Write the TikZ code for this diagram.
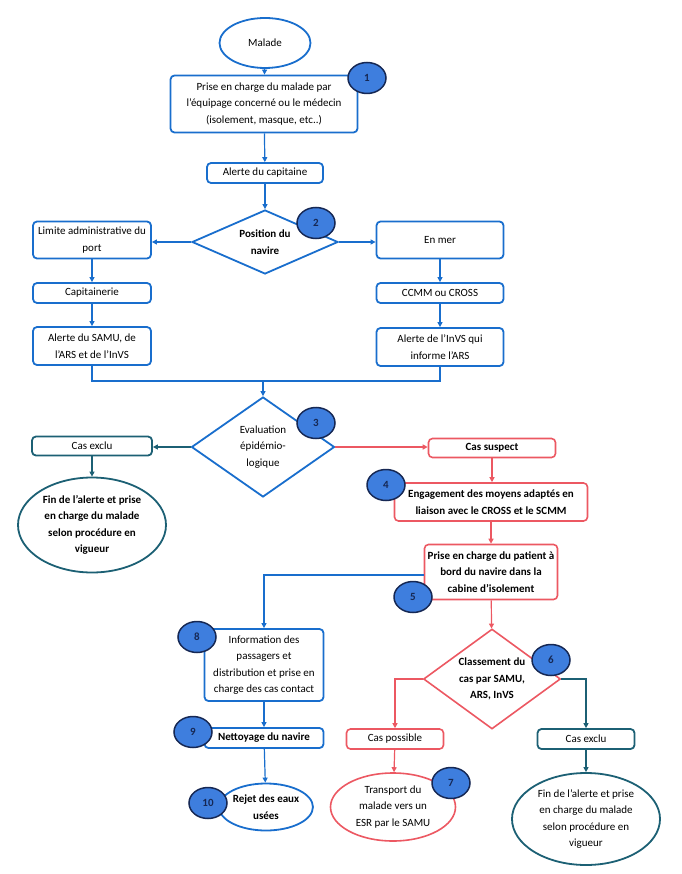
\documentclass[tikz,border=0pt]{standalone}
\usepackage{fontspec}
\setmainfont{Carlito}
\usetikzlibrary{shapes.geometric,arrows.meta,positioning}
\definecolor{bleu}{RGB}{25,110,205}
\definecolor{rouge}{RGB}{236,88,98}
\definecolor{canard}{RGB}{28,96,116}
\definecolor{pastillebleu}{RGB}{62,126,222}
\definecolor{marine}{RGB}{22,40,84}

\begin{document}
\begin{tikzpicture}[x=1pt,y=-1pt,
        every node/.style={font=\fontsize{11}{16.5}\selectfont, align=center, inner sep=1pt},
        boite/.style={draw=#1, line width=1.8pt, rounded corners=4pt, fill=white},
        ovale/.style={draw=#1, line width=1.8pt, ellipse, fill=white, inner sep=0pt},
        losange/.style={draw=#1, line width=1.8pt, diamond, aspect=1.5, fill=white, inner sep=0pt},
        fleche/.style={draw=#1, line width=1.2pt, -{Triangle[length=5pt,width=5pt]}},
        trait/.style={draw=#1, line width=1.2pt},
        pastille/.style={ellipse, draw=marine, line width=1.5pt, fill=pastillebleu, text=marine,
            font=\fontsize{11}{13}\selectfont\bfseries,
            minimum width=38pt, minimum height=31pt, inner sep=0pt}]
        \useasboundingbox (0,0) rectangle (681,874);
        
        %tronc commun
        \node[ovale=bleu, minimum width=91pt, minimum height=50pt] (malade) at (265,43) {Malade};
        \node[boite=bleu, minimum width=187pt, minimum height=57pt] (prise) at (264,104) {Prise en charge du malade par\\l'équipage concerné ou le médecin\\(isolement, masque, etc..)};
        \node[boite=bleu, minimum width=116pt, minimum height=20pt] (capitaine) at (265,173) {Alerte du capitaine};
        \node[losange=bleu, minimum width=146pt, minimum height=64pt] (position) at (265,242) {\textbf{Position du}\\\textbf{navire}};
        
        %port ou mer
        \node[boite=bleu, minimum width=118pt, minimum height=37pt] (limite) at (92,240) {Limite administrative du\\port};
        \node[boite=bleu, minimum width=127pt, minimum height=37pt] (enmer) at (440,240) {En mer};
        \node[boite=bleu, minimum width=118pt, minimum height=20pt] (capitainerie) at (92,293) {Capitainerie};
        \node[boite=bleu, minimum width=127pt, minimum height=20pt] (ccmm) at (440,293) {CCMM ou CROSS};
        \node[boite=bleu, minimum width=118pt, minimum height=38pt] (samu) at (92,346) {Alerte du SAMU, de\\l'ARS et de l'InVS};
        \node[boite=bleu, minimum width=127pt, minimum height=38pt] (invs) at (440,347) {Alerte de l'InVS qui\\informe l'ARS};
        \coordinate (jonction) at (263,381);
        
        %evaluation
        \node[losange=bleu, minimum width=143pt, minimum height=100pt] (evaluation) at (263,447) {Evaluation\\épidémio-\\logique};
        \node[boite=canard, minimum width=120pt, minimum height=19pt] (exclu1) at (92,446) {Cas exclu};
        \node[ovale=canard, minimum width=148pt, minimum height=95pt] (fin1) at (92,525) {\textbf{Fin de l'alerte et prise}\\\textbf{en charge du malade}\\\textbf{selon procédure en}\\\textbf{vigueur}};
        \node[boite=rouge, line width=1.6pt, minimum width=127pt, minimum height=19pt] (suspect) at (492,448) {\textbf{Cas suspect}};
        \node[boite=rouge, line width=1.6pt, minimum width=193pt, minimum height=38pt] (engagement) at (491,502) {\textbf{Engagement des moyens adaptés en}\\\textbf{liaison avec le CROSS et le SCMM}};
        \node[boite=rouge, line width=1.6pt, minimum width=133pt, minimum height=55pt] (patient) at (491,572) {\textbf{Prise en charge du patient à}\\\textbf{bord du navire dans la}\\\textbf{cabine d'isolement}};
        
        %navire
        \node[boite=bleu, minimum width=119pt, minimum height=72pt] (information) at (264,665) {Information des\\passagers et\\distribution et prise en\\charge des cas contact};
        \node[boite=bleu, minimum width=119pt, minimum height=20pt] (nettoyage) at (264,738) {\textbf{Nettoyage du navire}};
        \node[ovale=bleu, minimum width=93pt, minimum height=47pt] (rejet) at (266,807) {\textbf{Rejet des eaux}\\\textbf{usées}};
        
        %classement
        \node[losange=rouge, line width=1.6pt, minimum width=137pt, minimum height=100pt] (classement) at (492,679) {\textbf{Classement du}\\\textbf{cas par SAMU,}\\\textbf{ARS, InVS}};
        \node[boite=rouge, line width=1.6pt, minimum width=97pt, minimum height=20pt] (possible) at (395,739) {Cas possible};
        \node[ovale=rouge, line width=1.6pt, minimum width=125pt, minimum height=68pt] (transport) at (393,807) {Transport du\\malade vers un\\ESR par le SAMU};
        \node[boite=canard, minimum width=97pt, minimum height=20pt] (exclu2) at (586,739) {Cas exclu};
        \node[ovale=canard, minimum width=148pt, minimum height=92pt] (fin2) at (586,819) {Fin de l'alerte et prise\\en charge du malade\\selon procédure en\\vigueur};
        
        %fleches
        \draw[fleche=bleu] (malade) -- (prise);
        \draw[fleche=bleu] (prise) -- (capitaine);
        \draw[fleche=bleu] (capitaine) -- (position);
        \draw[fleche=bleu] (position.west) -- (position.west -| limite.east);
        \draw[fleche=bleu] (position.east) -- (position.east -| enmer.west);
        \draw[fleche=bleu] (limite) -- (capitainerie);
        \draw[fleche=bleu] (capitainerie) -- (samu);
        \draw[fleche=bleu] (enmer) -- (ccmm);
        \draw[fleche=bleu] (ccmm) -- (invs);
        \draw[trait=bleu] (samu.south) |- (jonction) -| (invs.south);
        \draw[fleche=bleu] (jonction) -- (evaluation.north);
        \draw[fleche=canard] (evaluation.west) -- (evaluation.west -| exclu1.east);
        \draw[fleche=canard] (exclu1) -- (fin1);
        \draw[fleche=rouge] (evaluation.east) -- (evaluation.east -| suspect.west);
        \draw[fleche=rouge] (suspect.south) -- (suspect.south |- engagement.north);
        \draw[fleche=rouge] (engagement) -- (patient);
        \draw[fleche=bleu] ([yshift=-3pt]patient.west) -| (information.north);
        \draw[fleche=rouge] (patient) -- (classement);
        \draw[fleche=rouge] (classement.west) -| (possible.north);
        \draw[fleche=canard] (classement.east) -| (exclu2.north);
        \draw[fleche=rouge] (possible) -- (transport);
        \draw[fleche=canard] (exclu2) -- (fin2);
        \draw[fleche=bleu] (information) -- (nettoyage);
        \draw[fleche=bleu] (nettoyage) -- (rejet);
        
        %pastilles numerotees
        \node[pastille] (p1) at (367,78) {1};
        \node[pastille] (p2) at (316,223) {2};
        \node[pastille] (p3) at (316,423) {3};
        \node[pastille] (p4) at (386,485) {4};
        \node[pastille] (p5) at (413,597) {5};
        \node[pastille] (p6) at (551,660) {6};
        \node[pastille] (p7) at (451,783) {7};
        \node[pastille] (p8) at (197,637) {8};
        \node[pastille] (p9) at (193,732) {9};
        \node[pastille] (p10) at (208,803) {10};
\end{tikzpicture}
\end{document}
